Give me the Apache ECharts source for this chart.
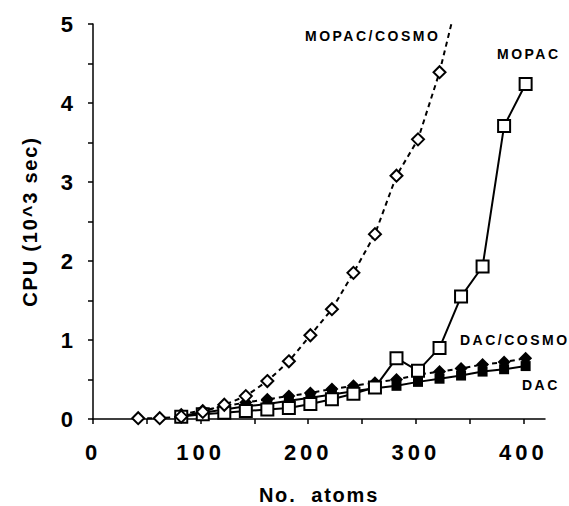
<!DOCTYPE html>
<html>
<head>
<meta charset="utf-8">
<script src="https://cdn.jsdelivr.net/npm/echarts@6/dist/echarts.min.js"></script>
<style>
  html, body { margin: 0; padding: 0; background: #fff; }
  #chart { width: 569px; height: 506px; }
  /* the original figure is widely tracked; svg text picks this up */
  #chart text { letter-spacing: 2px; }
  #chart text[style*="22px"] { letter-spacing: 4px; }
  #chart text[style*="20px"] { letter-spacing: 1.8px; }
  #chart text[style*="14px"] { letter-spacing: 2.5px; }
</style>
</head>
<body>
<div id="chart"></div>
<script>
// x: number of atoms
const atoms = [42, 62, 82, 102, 122, 142, 162, 182, 202, 222, 242, 262, 282, 302, 322, 342, 362, 382, 402]

// CPU, 10^3 sec (null = no point)
const mopacCosmo = [0.01, 0.01, 0.03, 0.09, 0.18, 0.29, 0.48, 0.73, 1.06, 1.39, 1.85, 2.34, 3.08, 3.54, 4.39, 5.5, null, null, null]
const mopac = [null, null, 0.03, 0.06, 0.08, 0.10, 0.12, 0.14, 0.19, 0.25, 0.32, 0.40, 0.77, 0.61, 0.90, 1.55, 1.93, 3.71, 4.24]
const dacCosmo = [null, null, 0.06, 0.11, 0.16, 0.21, 0.25, 0.29, 0.33, 0.38, 0.42, 0.46, 0.50, 0.56, 0.60, 0.64, 0.69, 0.72, 0.77]
const dac = [null, null, 0.04, 0.08, 0.12, 0.16, 0.19, 0.23, 0.27, 0.31, 0.35, 0.39, 0.42, 0.47, 0.51, 0.55, 0.60, 0.63, 0.67]

const xTicks = [0, 50, 100, 150, 200, 250, 300, 350, 400]
const xLabels = [0, 100, 200, 300, 400]
const yTicks = [0, 0.5, 1, 1.5, 2, 2.5, 3, 3.5, 4, 4.5, 5]
const yLabels = [0, 1, 2, 3, 4, 5]

const FONT = 'Liberation Sans, Arial, Helvetica, sans-serif'

function pairs(vals) {
  return atoms.map((x, i) => [x, vals[i]]).filter(p => p[1] != null)
}

function line(name, vals, dashed, symbol, filled, size) {
  return {
    name,
    type: 'line',
    data: pairs(vals),
    symbol,
    symbolSize: size,
    showAllSymbol: true,
    lineStyle: { color: '#000', width: 2, type: dashed ? [5, 4] : 'solid' },
    itemStyle: { color: filled ? '#000' : '#fff', borderColor: '#000', borderWidth: filled ? 0 : 2 },
    emphasis: { disabled: true },
    animation: false,
  }
}

const chart = echarts.init(document.getElementById('chart'), null, { renderer: 'svg' })

chart.setOption({
  backgroundColor: '#fff',
  animation: false,
  grid: { left: 93, right: 24, top: 24, bottom: 87, outerBoundsMode: 'none' },
  xAxis: {
    type: 'value',
    min: 0,
    max: 420,
    name: 'No.  atoms',
    nameLocation: 'middle',
    nameGap: 66,
    nameTextStyle: { fontFamily: FONT, fontSize: 20, fontWeight: 'bold', color: '#000' },
    axisLine: { onZero: false, lineStyle: { color: '#000', width: 1.5 } },
    axisTick: { show: true, length: 5, customValues: xTicks, lineStyle: { color: '#000', width: 1.5 } },
    axisLabel: { customValues: xLabels, margin: 22, fontFamily: FONT, fontSize: 22, fontWeight: 'bold', color: '#000' },
    splitLine: { show: false },
  },
  yAxis: {
    type: 'value',
    min: 0,
    max: 5,
    name: 'CPU (10^3 sec)',
    nameLocation: 'middle',
    nameGap: 53,
    nameTextStyle: { fontFamily: FONT, fontSize: 20, fontWeight: 'bold', color: '#000' },
    axisLine: { show: true, onZero: false, lineStyle: { color: '#000', width: 1.5 } },
    axisTick: { show: true, length: 5, customValues: yTicks, lineStyle: { color: '#000', width: 1.5 } },
    axisLabel: { customValues: yLabels, margin: 16, fontFamily: FONT, fontSize: 22, fontWeight: 'bold', color: '#000' },
    splitLine: { show: false },
  },
  graphic: [
    { type: 'text', left: 305, top: 29, style: { text: 'MOPAC/COSMO', font: 'bold 14px ' + FONT, fill: '#000' } },
    { type: 'text', left: 497, top: 47, style: { text: 'MOPAC', font: 'bold 14px ' + FONT, fill: '#000' } },
    { type: 'text', left: 460, top: 333, style: { text: 'DAC/COSMO', font: 'bold 14px ' + FONT, fill: '#000' } },
    { type: 'text', left: 522, top: 378, style: { text: 'DAC', font: 'bold 14px ' + FONT, fill: '#000' } },
  ],
  series: [
    line('DAC', dac, false, 'rect', true, 10),
    line('DAC/COSMO', dacCosmo, true, 'diamond', true, 13),
    line('MOPAC', mopac, false, 'rect', false, 12),
    line('MOPAC/COSMO', mopacCosmo, true, 'diamond', false, 12),
  ],
})
</script>
</body>
</html>
